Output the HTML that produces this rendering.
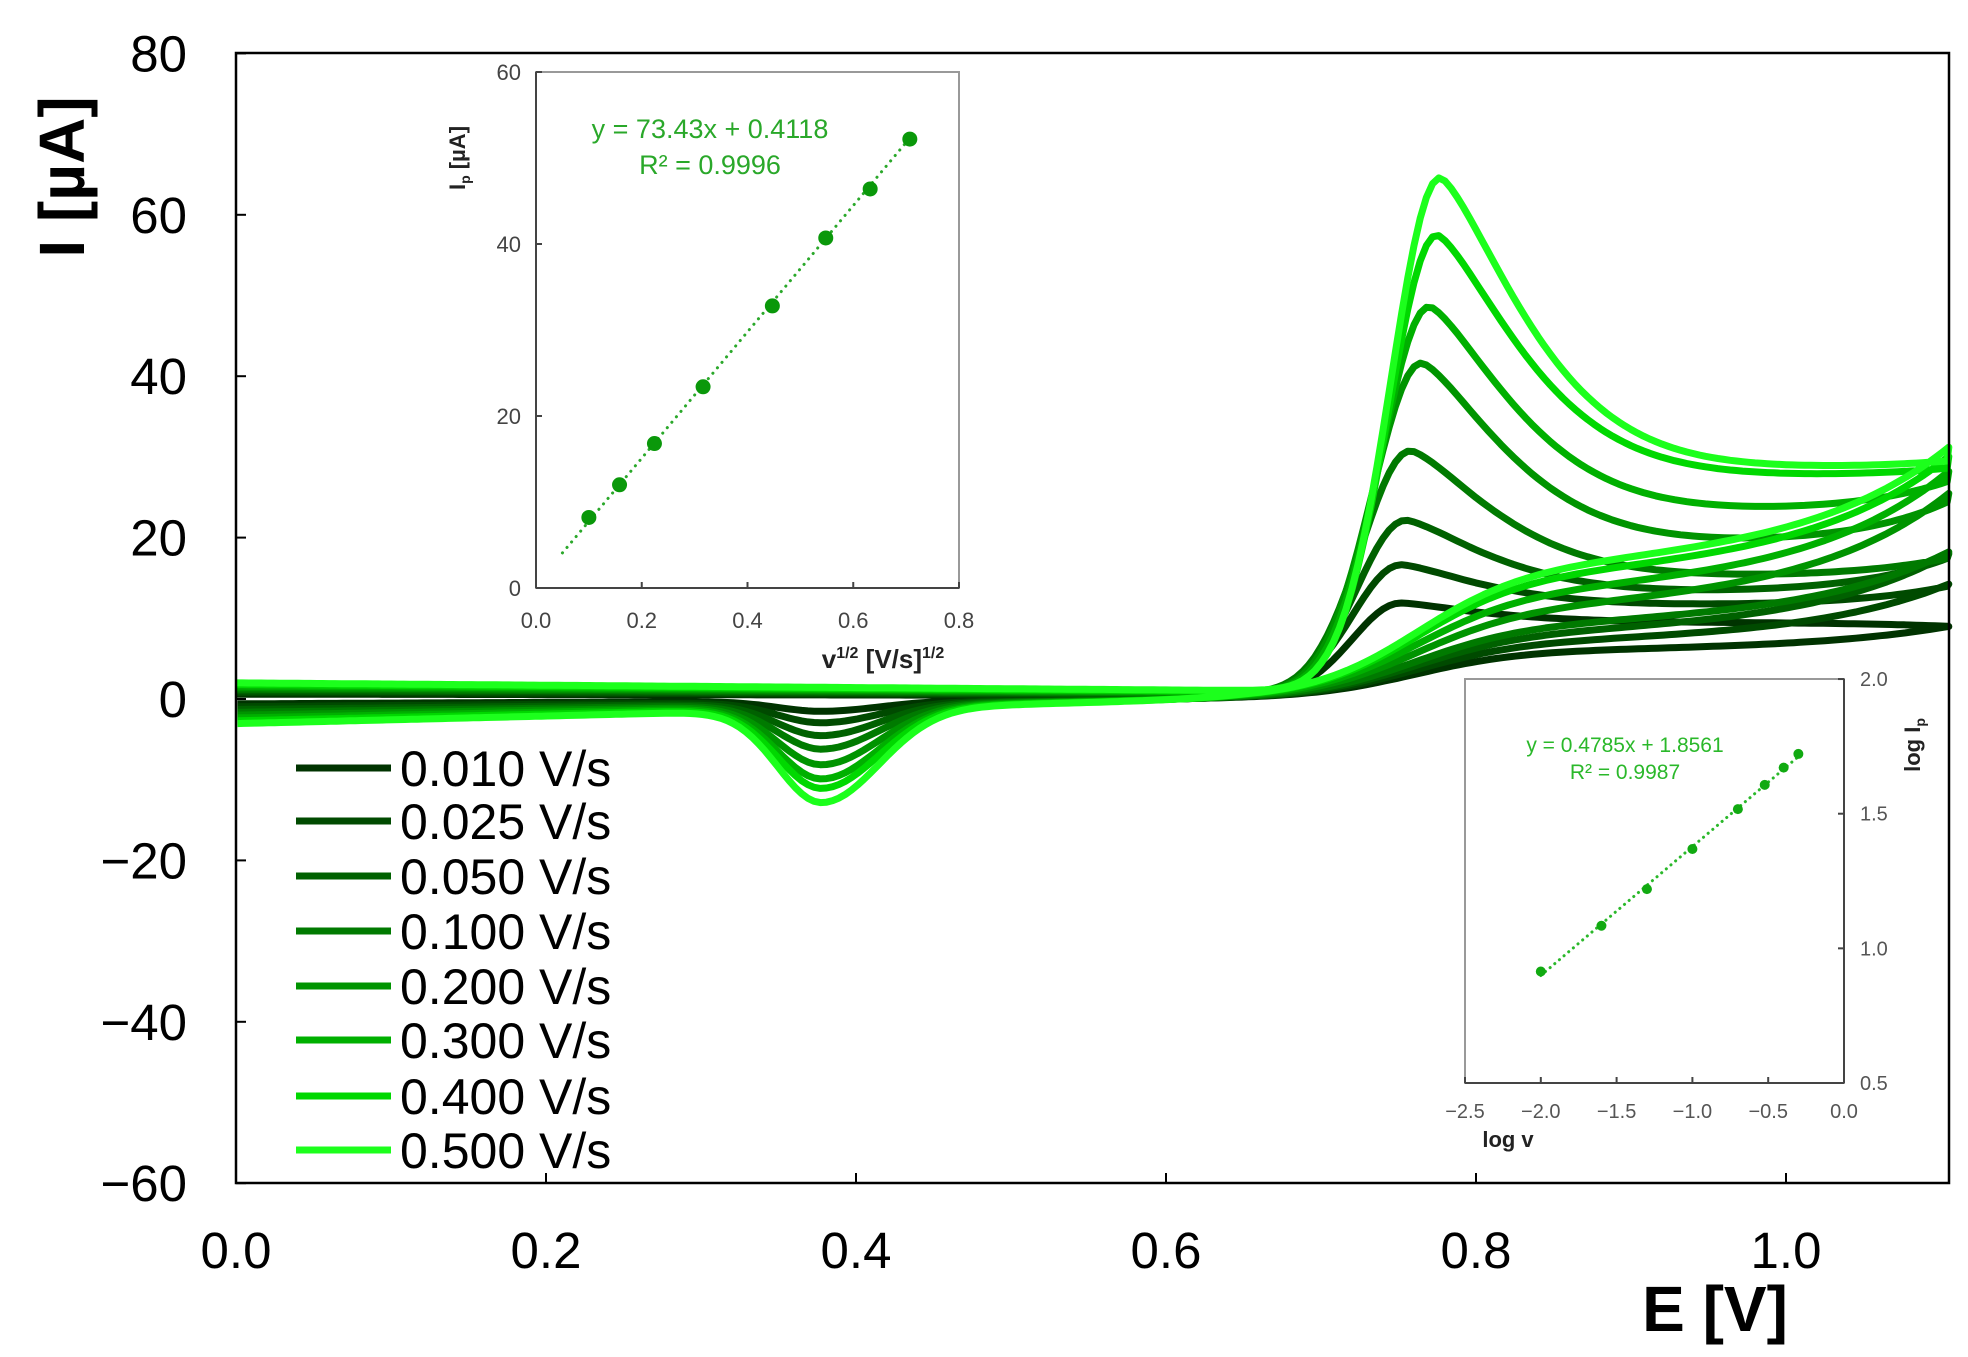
<!DOCTYPE html>
<html><head><meta charset="utf-8"><style>
html,body{margin:0;padding:0;background:#fff;}
svg{display:block;font-family:"Liberation Sans",Arial,sans-serif;}
</style></head><body>
<svg id="s" width="1968" height="1357" viewBox="0 0 1968 1357" xmlns="http://www.w3.org/2000/svg">
<rect width="1968" height="1357" fill="#fff"/>
<g id="curves"></g>
<rect x="236" y="53" width="1713" height="1130" fill="none" stroke="#000" stroke-width="2.5"/>
<g id="axes" font-size="51" fill="#000"></g>
<text x="0" y="0" font-size="64" font-weight="bold" transform="translate(84,177) rotate(-90)" text-anchor="middle">I [µA]</text>
<text x="1715" y="1331" font-size="64" font-weight="bold" text-anchor="middle">E [V]</text>
<g id="legend" font-size="50"></g>
<g id="in1"></g>
<g id="in2"></g>
</svg>
<script>
const NS="http://www.w3.org/2000/svg";
function el(p,t,a,txt){const e=document.createElementNS(NS,t);for(const k in a)e.setAttribute(k,a[k]);if(txt!==undefined)e.textContent=txt;p.appendChild(e);return e;}
const X=E=>236+E*1550, Y=i=>699-i*8.07;
const rates=["0.010","0.025","0.050","0.100","0.200","0.300","0.400","0.500"];
const cols=["#003300","#004a00","#006100","#007a00","#009400","#00b000","#00d800","#1cff1c"];
const ip=[11.7,16.4,21.9,30.5,41.4,48.4,57.3,64.4];
const Ep=[0.752,0.752,0.755,0.758,0.765,0.77,0.775,0.777];
const pl=[9.5,11.5,13,15,19,23,27.5,28.5];
const ve=[9,14,17.5,17.5,24.5,27,28.6,29.5];
const lowp=[6,7,8,9,11,13,15,16];
const cat=[-1.5,-3,-4.7,-6.5,-8.6,-10.5,-11.7,-13.6];
const g=document.getElementById("curves");
function sig(z){return 1/(1+Math.exp(-z));}
for(let k=0;k<8;k++){
  const pts=[];
  const off=0.3+k*0.2;
  for(let E=0;E<=1.105;E+=0.004){
    let u;
    const base=off*(1-E/0.7*0.6)+0.3;
    if(E<=Ep[k]) u=ip[k]*Math.exp(-Math.pow((E-Ep[k])/0.045,2));
    else{ const d=E-Ep[k]; u=pl[k]+(ip[k]-pl[k])*Math.exp(-Math.pow(d/0.075,1.4)); }
    u+= (ve[k]-pl[k])*Math.exp((E-1.105)/0.06)*(E>Ep[k]?1:0);
    u+= E<0.7?base:base*Math.max(0,1-(E-0.7)/0.1);
    pts.push([X(E),Y(u)]);
  }
  for(let E=1.105;E>=0;E-=0.004){
    let l;
    const rise=sig((E-0.76)/0.035);
    l=lowp[k]*rise + (ve[k]-lowp[k])*Math.exp((E-1.105)/0.09)*rise;
    l+=0.8*rise*(E-0.8)*k;
    const bneg=-(0.6+k*0.35)*(1-E/0.65);
    if(E<0.65) l+=bneg;
    const d=E-0.378;
    l+=cat[k]*Math.exp(-Math.pow(d/(d<0?0.04:0.052),2))*0.85;
    pts.push([X(E),Y(l)]);
  }
  el(g,"path",{d:"M"+pts.map(p=>p[0].toFixed(1)+","+p[1].toFixed(1)).join("L"),fill:"none",stroke:cols[k],"stroke-width":7,"stroke-linejoin":"round"});
}
const ax=document.getElementById("axes");
[[80,"80"],[60,"60"],[40,"40"],[20,"20"],[0,"0"],[-20,"−20"],[-40,"−40"],[-60,"−60"]].forEach(([v,t])=>{
  el(ax,"text",{x:187,y:Y(v)+18,"text-anchor":"end"},t);
  el(ax,"line",{x1:236,x2:246,y1:Y(v),y2:Y(v),stroke:"#000","stroke-width":2});
});
[0,0.2,0.4,0.6,0.8,1.0].forEach(v=>{
  el(ax,"text",{x:X(v),y:1268,"text-anchor":"middle"},v.toFixed(1));
  el(ax,"line",{x1:X(v),x2:X(v),y1:1183,y2:1173,stroke:"#000","stroke-width":2});
});
const lg=document.getElementById("legend");
const ly=[768,821,876,931,986,1040,1096,1150];
for(let k=0;k<8;k++){
  el(lg,"line",{x1:296,x2:391,y1:ly[k],y2:ly[k],stroke:cols[k],"stroke-width":7});
  el(lg,"text",{x:400,y:ly[k]+18,fill:"#000"},rates[k]+" V/s");
}
// inset 1
const i1=document.getElementById("in1");
const L1=536,R1=959,T1=72,B1=588;
const ax1=x=>L1+x*(R1-L1)/0.8, ay1=y=>B1-y*(B1-T1)/60;
el(i1,"rect",{x:L1,y:T1,width:R1-L1,height:B1-T1,fill:"#fff",stroke:"#999","stroke-width":2});
el(i1,"line",{x1:L1,y1:T1,x2:L1,y2:B1,stroke:"#444","stroke-width":2});
el(i1,"line",{x1:L1,y1:B1,x2:R1,y2:B1,stroke:"#444","stroke-width":2});
[0,20,40,60].forEach(v=>{el(i1,"text",{x:L1-15,y:ay1(v)+8,"text-anchor":"end","font-size":22,fill:"#444"},v);el(i1,"line",{x1:L1,x2:L1+6,y1:ay1(v),y2:ay1(v),stroke:"#444","stroke-width":2});});
[0,0.2,0.4,0.6,0.8].forEach(v=>{el(i1,"text",{x:ax1(v),y:628,"text-anchor":"middle","font-size":22,fill:"#444"},v.toFixed(1));el(i1,"line",{x1:ax1(v),x2:ax1(v),y1:B1,y2:B1-6,stroke:"#444","stroke-width":2});});
el(i1,"line",{x1:ax1(0.05),y1:ay1(73.43*0.05+0.41),x2:ax1(0.71),y2:ay1(73.43*0.71+0.41),stroke:"#2aa82a","stroke-width":3,"stroke-dasharray":"0.1 7","stroke-linecap":"round"});
const sx=[0.1,0.158,0.224,0.316,0.447,0.548,0.632,0.707],sy=[8.2,12,16.8,23.4,32.8,40.7,46.4,52.2];
sx.forEach((x,i)=>el(i1,"circle",{cx:ax1(x),cy:ay1(sy[i]),r:7.5,fill:"#0a980a"}));
el(i1,"text",{x:710,y:138,"text-anchor":"middle","font-size":27,fill:"#2aa82a"},"y = 73.43x + 0.4118");
el(i1,"text",{x:710,y:174,"text-anchor":"middle","font-size":27,fill:"#2aa82a"},"R² = 0.9996");
const t1=el(i1,"text",{transform:"translate(465,158) rotate(-90)","text-anchor":"middle","font-size":22,"font-weight":"bold",fill:"#222"},"");
t1.innerHTML='I<tspan font-size="14" dy="5">p</tspan><tspan dy="-5"> [µA]</tspan>';
const t2=el(i1,"text",{x:883,y:668,"text-anchor":"middle","font-size":26,"font-weight":"bold",fill:"#222"},"");
t2.innerHTML='v<tspan font-size="16" dy="-10">1/2</tspan><tspan dy="10"> [V/s]</tspan><tspan font-size="16" dy="-10">1/2</tspan>';
// inset 2
const i2=document.getElementById("in2");
const bx=x=>1844+x*151.6, by=y=>1083-(y-0.5)*269.3;
el(i2,"rect",{x:1465,y:679,width:379,height:404,fill:"#fff",stroke:"#999","stroke-width":2});
el(i2,"line",{x1:1844,y1:679,x2:1844,y2:1083,stroke:"#444","stroke-width":2});
el(i2,"line",{x1:1465,y1:1083,x2:1844,y2:1083,stroke:"#444","stroke-width":2});
[0.5,1.0,1.5,2.0].forEach(v=>{el(i2,"text",{x:1860,y:by(v)+7,"font-size":20,fill:"#555"},v.toFixed(1));el(i2,"line",{x1:1838,x2:1844,y1:by(v),y2:by(v),stroke:"#444","stroke-width":2});});
[-2.5,-2,-1.5,-1,-0.5,0].forEach(v=>{el(i2,"text",{x:bx(v),y:1118,"text-anchor":"middle","font-size":20,fill:"#555"},(v<0?"−":"")+Math.abs(v).toFixed(1));el(i2,"line",{x1:bx(v),x2:bx(v),y1:1083,y2:1077,stroke:"#444","stroke-width":2});});
el(i2,"line",{x1:bx(-2),y1:by(0.4785*-2+1.8561),x2:bx(-0.3),y2:by(0.4785*-0.3+1.8561),stroke:"#2ab82a","stroke-width":3,"stroke-dasharray":"0.1 6","stroke-linecap":"round"});
const lx=[-2,-1.6,-1.3,-1,-0.7,-0.523,-0.398,-0.301],lyy=[0.914,1.084,1.22,1.369,1.517,1.607,1.671,1.722];
lx.forEach((x,i)=>el(i2,"circle",{cx:bx(x),cy:by(lyy[i]),r:5,fill:"#11aa11"}));
el(i2,"text",{x:1625,y:752,"text-anchor":"middle","font-size":21,fill:"#2ab82a"},"y = 0.4785x + 1.8561");
el(i2,"text",{x:1625,y:779,"text-anchor":"middle","font-size":21,fill:"#2ab82a"},"R² = 0.9987");
el(i2,"text",{x:1508,y:1147,"text-anchor":"middle","font-size":22,"font-weight":"bold",fill:"#222"},"log v");
const t3=el(i2,"text",{transform:"translate(1920,745) rotate(-90)","text-anchor":"middle","font-size":22,"font-weight":"bold",fill:"#222"},"");
t3.innerHTML='log I<tspan font-size="14" dy="5">p</tspan>';
</script>
</body></html>
